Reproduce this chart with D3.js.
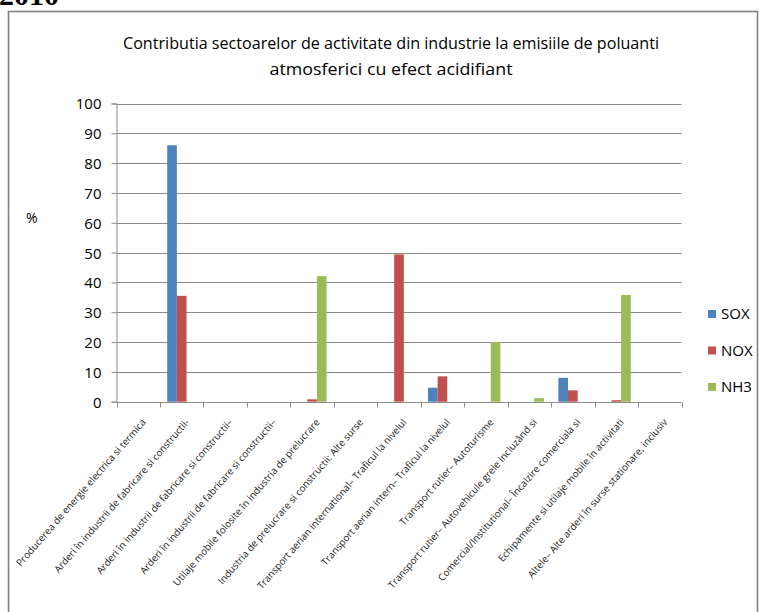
<!DOCTYPE html>
<html>
<head>
<meta charset="utf-8">
<script src="https://cdn.jsdelivr.net/npm/d3@7"></script>
<style>
  body { margin: 0; background: #fff; }
  svg { display: block; }
  text { font-family: "Open Sans", sans-serif; fill: #000; }
</style>
</head>
<body>
<div id="chart"></div>
<script>
// Categories (truncated exactly as they appear on the axis)
let categories = [
	"Producerea de energie electrica si termica",
	"Arderi în industrii de fabricare si constructii-",
	"Arderi în industrii de fabricare si constructii–",
	"Arderi în industrii de fabricare si constructii–",
	"Utilaje mobile folosite în industria de prelucrare",
	"Industria de prelucrare si constructii: Alte surse",
	"Transport aerian international– Traficul la nivelul",
	"Transport aerian intern– Traficul la nivelul",
	"Transport rutier– Autoturisme",
	"Transport rutier– Autovehicule grele incluzând si",
	"Comercial/Institutional– Încalzire comerciala si",
	"Echipamente si utilaje mobile în activitati",
	"Altele– Alte arderi în surse stationare, inclusiv"
];

// Series values (%)
let sox = [0, 86, 0, 0, 0, 0, 0, 4.7, 0, 0, 8, 0, 0];
let nox = [0, 35.5, 0, 0, 0.8, 0, 49.4, 8.5, 0, 0, 3.8, 0.5, 0];
let nh3 = [0, 0, 0, 0, 42.1, 0, 0, 0, 20, 1.2, 0, 35.8, 0];

let seriesNames = ["SOX", "NOX", "NH3"];
let seriesColors = ["#4f81bd", "#c0504d", "#9bbb59"];
let yTicks = [0, 10, 20, 30, 40, 50, 60, 70, 80, 90, 100];

let width = 759, height = 612;
let svg = d3.select("#chart").append("svg")
	.attr("width", width)
	.attr("height", height);

// Year heading, cut off at the top of the page
svg.append("text")
	.attr("x", -1)
	.attr("y", 5)
	.style("font-family", "'Liberation Serif', serif")
	.style("font-weight", "bold")
	.style("font-size", "30px")
	.text("2010");

// Chart frame
svg.append("rect")
	.attr("x", 8.5)
	.attr("y", 11.5)
	.attr("width", 749)
	.attr("height", 640)
	.attr("fill", "none")
	.attr("stroke", "#808080")
	.attr("stroke-width", 1.6);

// Title
let title = svg.append("g").style("font-size", "17px");
title.append("text")
	.attr("x", 391).attr("y", 49)
	.attr("text-anchor", "middle")
	.attr("textLength", 536)
	.attr("lengthAdjust", "spacingAndGlyphs")
	.text("Contributia sectoarelor de activitate din industrie la emisiile de poluanti");
title.append("text")
	.attr("x", 391).attr("y", 75)
	.attr("text-anchor", "middle")
	.attr("textLength", 243)
	.attr("lengthAdjust", "spacingAndGlyphs")
	.text("atmosferici cu efect acidifiant");

// Scales
let x = d3.scaleBand()
	.domain(d3.range(categories.length))
	.range([116.5, 681.5]);

let xSub = d3.scaleBand()
	.domain(seriesNames)
	.range([0, x.bandwidth()])
	.paddingOuter(0.75);

let y = d3.scaleLinear()
	.domain([0, 100])
	.range([401.7, 103.5]);

// Gridlines
svg.append("g")
	.selectAll("line")
	.data(yTicks.filter(d => d > 0))
	.enter().append("line")
	.attr("x1", 116.5).attr("x2", 681.5)
	.attr("y1", d => Math.round(y(d)) + 0.5)
	.attr("y2", d => Math.round(y(d)) + 0.5)
	.attr("stroke", "#8a8a8a")
	.attr("stroke-width", 1.2);

// Y axis
let yAxis = svg.append("g")
	.attr("transform", "translate(116.5,0)")
	.call(d3.axisLeft(y).tickValues(yTicks).tickSize(5).tickPadding(10));
yAxis.selectAll("path, line").attr("stroke", "#8a8a8a");
yAxis.selectAll("text")
	.style("font-family", "'Open Sans', sans-serif")
	.style("font-size", "15px")
	.attr("dy", "0.36em");

// X axis, tick marks on the category boundaries
let xAxisY = Math.round(y(0)) + 0.5;
let edges = d3.range(categories.length).map(i => x(i)).concat([x.range()[1]]);
let xAxis = svg.append("g");
xAxis.append("line")
	.attr("x1", 116.5).attr("x2", 681.5)
	.attr("y1", xAxisY).attr("y2", xAxisY)
	.attr("stroke", "#8a8a8a");
xAxis.selectAll(".tick")
	.data(edges)
	.enter().append("line")
	.attr("class", "tick")
	.attr("x1", d => Math.round(d) + 0.5)
	.attr("x2", d => Math.round(d) + 0.5)
	.attr("y1", xAxisY).attr("y2", xAxisY + 5)
	.attr("stroke", "#8a8a8a");

// Category labels, rotated
svg.append("g")
	.selectAll("text")
	.data(categories)
	.enter().append("text")
	.attr("transform", (d, i) => "translate(" + (x(i) + x.bandwidth() / 2 + 3) + "," + 418 + ") rotate(-49)")
	.attr("text-anchor", "end")
	.attr("dy", "0.7em")
	.style("font-size", "9.8px")
	.style("fill", "#222")
	.text(d => d);

// Bars, one group per series
let seriesData = [sox, nox, nh3];
let barGroups = svg.selectAll(".series")
	.data(seriesNames)
	.enter().append("g")
	.attr("class", "series")
	.attr("fill", (d, s) => seriesColors[s]);

barGroups.selectAll("rect")
	.data((name, s) => seriesData[s].map((v, i) => ({ i: i, v: v, name: name })).filter(d => d.v > 0))
	.enter().append("rect")
	.attr("x", d => x(d.i) + xSub(d.name))
	.attr("width", xSub.bandwidth())
	.attr("y", d => y(d.v))
	.attr("height", d => y(0) - y(d.v));

// "%" axis title
svg.append("text")
	.attr("x", 26)
	.attr("y", 223)
	.style("font-size", "14px")
	.text("%");

// Legend
let legend = svg.selectAll(".legend")
	.data(seriesNames)
	.enter().append("g")
	.attr("class", "legend")
	.attr("transform", (d, i) => "translate(708," + (310 + i * 36.5) + ")");
legend.append("rect")
	.attr("width", 8)
	.attr("height", 8)
	.attr("fill", (d, i) => seriesColors[i]);
legend.append("text")
	.attr("x", 13)
	.attr("y", 4)
	.attr("dy", "0.36em")
	.style("font-size", "15px")
	.text(d => d);
</script>
</body>
</html>
